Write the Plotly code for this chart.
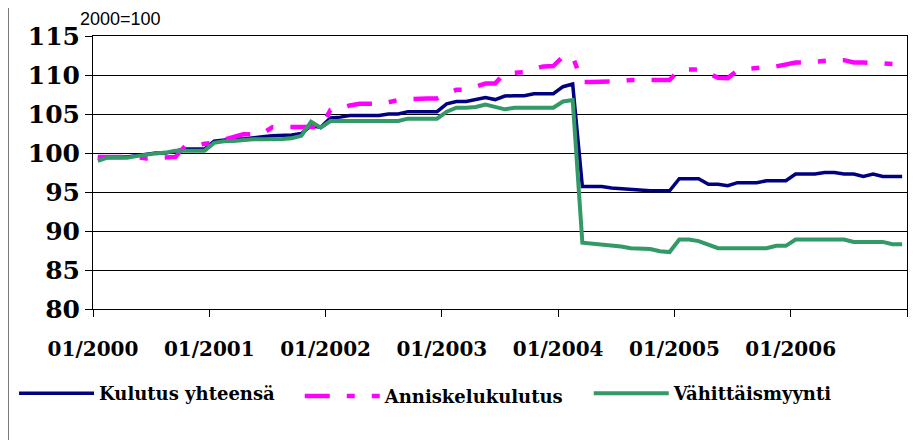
import plotly.graph_objects as go

# Monthly index 01/2000 .. 12/2006 (2000=100)
years = list(range(2000, 2007))
months = [f"{m:02d}/{y}" for y in years for m in range(1, 13)]
tick_labels = ["01/2000", "01/2001", "01/2002", "01/2003", "01/2004", "01/2005", "01/2006", ""]

kulutus_yhteensa = [
    99.4, 99.5, 99.5, 99.5, 99.7, 99.9, 100.0, 100.0, 100.3, 100.5, 100.5, 100.5,
    101.5, 101.7, 101.8, 101.8, 102.0, 102.1, 102.2, 102.2, 102.3, 102.5, 103.5, 103.3,
    104.5, 104.6, 104.8, 104.8, 104.8, 104.8, 105.0, 105.0, 105.3, 105.3, 105.3, 105.3,
    106.3, 106.6, 106.6, 106.9, 107.1, 106.85, 107.3, 107.35, 107.35, 107.6, 107.6, 107.6,
    108.5, 108.85, 95.7, 95.7, 95.7, 95.5, 95.4, 95.4, 95.2, 95.15, 95.15, 95.15,
    96.7, 96.7, 96.7, 96.0, 96.0, 95.8, 96.2, 96.2, 96.2, 96.45, 96.45, 96.45,
    97.3, 97.3, 97.3, 97.5, 97.5, 97.3, 97.3, 97.0, 97.3, 97.0, 97.0, 97.0,
]

anniskelukulutus = [
    99.5, 99.5, 99.5, 99.6, 99.5, 99.3, 99.4, 99.5, 99.5, 100.9, 100.9, 101.2,
    101.3, 101.7, 102.0, 102.4, 102.4, 102.5, 103.3, 103.3, 103.3, 103.35, 103.35, 103.35,
    105.5, 105.7, 106.1, 106.3, 106.3, 106.3, 106.5, 106.8, 106.9, 107.0, 107.0, 107.0,
    107.6, 108.1, 108.1, 108.5, 108.9, 108.9, 110.3, 110.3, 110.35, 110.8, 111.1, 111.15,
    112.35, 112.35, 109.1, 109.1, 109.1, 109.1, 109.2, 109.35, 109.35, 109.35, 109.35, 109.35,
    110.7, 110.7, 110.7, 110.2, 109.65, 109.6, 110.6, 110.8, 110.85, 111.0, 111.1, 111.3,
    111.6, 111.6, 111.7, 111.9, 111.9, 111.9, 111.6, 111.6, 111.6, 111.5, 111.4, 111.4,
]

vahittaismyynti = [
    99.0, 99.4, 99.4, 99.4, 99.6, 99.8, 99.95, 100.05, 100.3, 100.3, 100.3, 100.3,
    101.3, 101.5, 101.55, 101.7, 101.75, 101.75, 101.75, 101.8, 101.9, 102.2, 104.0, 103.25,
    104.1, 104.1, 104.1, 104.1, 104.1, 104.1, 104.1, 104.1, 104.4, 104.4, 104.4, 104.4,
    105.3, 105.8, 105.8, 105.9, 106.2, 105.9, 105.6, 105.8, 105.8, 105.8, 105.8, 105.8,
    106.6, 106.8, 88.5, 88.4, 88.3, 88.1, 88.0, 87.8, 87.7, 87.7, 87.4, 87.3,
    88.9, 88.9, 88.7, 88.2, 87.8, 87.8, 87.8, 87.8, 87.8, 87.8, 88.1, 88.1,
    88.9, 88.9, 88.9, 88.9, 88.9, 88.9, 88.6, 88.6, 88.6, 88.6, 88.3, 88.3,
]

x_idx = list(range(len(months)))
tick_positions = [-0.5 + 12 * k for k in range(len(tick_labels))]

SERIF = "DejaVu Serif"


def serif_font(size):
    return dict(family=SERIF, size=size, color="black", weight="bold")


fig = go.Figure()
fig.add_trace(go.Scatter(
    x=x_idx, y=kulutus_yhteensa, name="Kulutus yhteensä", mode="lines",
    customdata=months, line=dict(color="#000080", width=3.5), legend="legend",
))
fig.add_trace(go.Scatter(
    x=x_idx, y=anniskelukulutus, name="Anniskelukulutus", mode="lines",
    customdata=months, line=dict(color="#FF00FF", width=4.5, dash="25px,17px,8px,17px"),
    legend="legend2",
))
fig.add_trace(go.Scatter(
    x=x_idx, y=vahittaismyynti, name="Vähittäismyynti", mode="lines",
    customdata=months, line=dict(color="#339966", width=4), legend="legend3",
))


def legend_box(xpos, ypos):
    return dict(
        orientation="h", x=xpos, xanchor="left", y=ypos, yanchor="middle",
        font=serif_font(18), itemwidth=75, bgcolor="rgba(0,0,0,0)",
    )


# page body has an 8px margin, so the figure is 16px smaller and shifted
fig.update_layout(
    width=900, height=432,
    margin=dict(l=85, r=1, t=28, b=131),
    paper_bgcolor="white", plot_bgcolor="white",
    showlegend=True,
    legend=legend_box(-0.097, -0.31),
    legend2=legend_box(0.254, -0.32),
    legend3=legend_box(0.609, -0.31),
    annotations=[dict(
        text="2000=100", xref="paper", yref="paper", x=-0.0184, y=1.063,
        xanchor="left", yanchor="middle", showarrow=False,
        font=dict(family="Liberation Sans", size=18, color="black"),
    )],
    shapes=[dict(
        type="line", xref="paper", yref="paper", x0=-0.1044, x1=-0.1044,
        y0=-0.51, y1=1.14, line=dict(color="black", width=1),
    )],
)

fig.update_xaxes(
    range=[-0.5, 83.5], tickmode="array", tickvals=tick_positions, ticktext=tick_labels,
    showgrid=False, zeroline=False, automargin=False, tickangle=0,
    showline=True, linecolor="black", linewidth=1, mirror=True,
    ticks="outside", ticklen=7, tickcolor="black",
    tickfont=serif_font(20),
    ticklabelstandoff=15,
)
fig.update_yaxes(
    range=[80, 115], tickmode="linear", tick0=80, dtick=5,
    showgrid=True, gridcolor="black", gridwidth=1, zeroline=False, automargin=False,
    showline=True, linecolor="black", linewidth=1, mirror=True,
    ticks="outside", ticklen=7, tickcolor="black",
    tickfont=serif_font(25),
)

fig.write_html("out.html")
